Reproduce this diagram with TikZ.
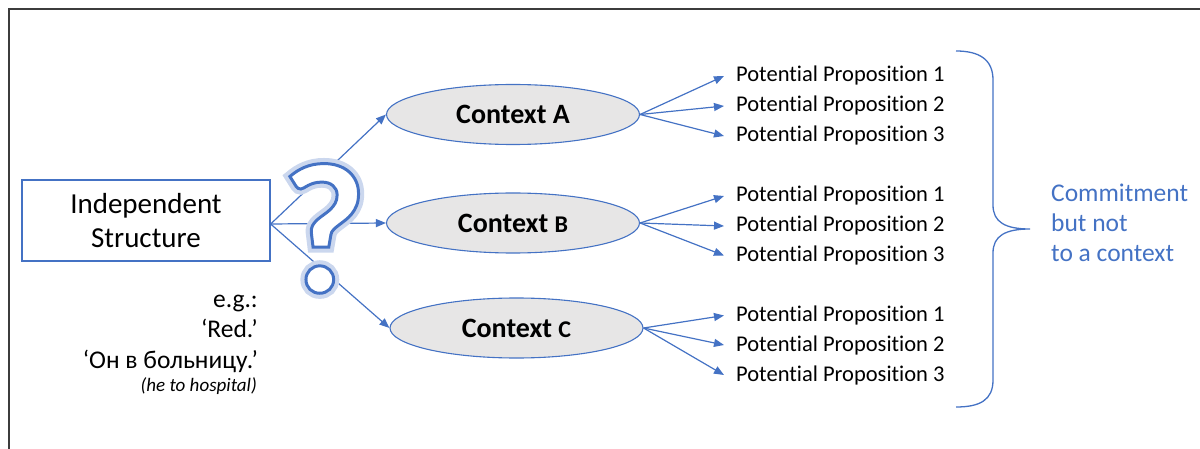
\documentclass[tikz,border=0pt]{standalone}
\usepackage{fontspec}
\setmainfont{Carlito}[Ligatures=NoCommon]
\newfontfamily\qfont{Carlito}[FakeBold=1.6]
\newfontfamily\qglowfont{Carlito}[FakeBold=6]
\usetikzlibrary{shapes.geometric,arrows.meta}
\definecolor{myblue}{HTML}{4472C4}
\definecolor{ctxgray}{HTML}{E7E6E6}
\definecolor{framegray}{HTML}{3C3C3C}
\newcommand\myfs[2]{\fontsize{#1}{#2}\selectfont}
\begin{document}
\begin{tikzpicture}[x=1pt,y=-1pt,
  arr/.style={-{Triangle[length=10pt,width=8pt]}, draw=myblue, line width=1.2pt},
  ctx/.style={ellipse, draw=myblue, fill=ctxgray, line width=1.1pt, minimum width=253pt, minimum height=60pt, inner sep=0pt, font=\bfseries\myfs{28}{34}},
  prop/.style={anchor=base west, inner xsep=12pt, inner ysep=0pt, font=\myfs{22.5}{27}},
  egtext/.style={anchor=base east, inner sep=0pt, font=\myfs{25.5}{30}},
  commit/.style={anchor=base west, inner sep=0pt, text=myblue, font=\myfs{25.5}{30}},
  qm/.style={inner sep=0pt, anchor=base}]
\useasboundingbox (0,0) rectangle (1200,449);
% frame
\draw[framegray, line width=1.6pt] (9,449) -- (9,9) -- (1200,9);
% independent structure
\node[draw=myblue, line width=1.3pt, fill=white, minimum width=248pt, minimum height=81pt, align=center, inner sep=0pt, font=\myfs{29}{34}] (box) at (146,220.5) {Independent\\Structure};
\coordinate (src) at ([yshift=-3.5pt]box.east);
% contexts
\node[ctx] (A) at (513,114.5) {Context A};
\node[ctx] (B) at (513,223) {Context \myfs{24}{29}B};
\node[ctx] (C) at (516.5,328) {Context \myfs{24}{29}C};
\draw[arr] (src) -- (A.west);
\draw[arr] (src) -- (B.west);
\draw[arr] (src) -- (C.west);
% question mark
\node[qm, font=\qglowfont\bfseries\myfs{186}{186}, text=myblue!28] (qglow) at (324,292) {?};
\node[qm, font=\qfont\bfseries\myfs{186}{186}] (qmark) at (324,292) {\special{pdf:bcolor [1 1 1] [0.267 0.447 0.769]}?\special{pdf:ecolor}};
% examples
\node[egtext] (eg1) at (258,307) {e.g.:};
\node[egtext] (eg2) at (258,337) {‘Red.’};
\node[egtext] (eg3) at (258,368) {‘Он в больницу.’};
\node[egtext, font=\itshape\myfs{19}{22}] (eg4) at (257,391) {(he to hospital)};
% propositions
\node[prop] (a1) at (724,82) {Potential Proposition 1};
\node[prop] (a2) at (724,112) {Potential Proposition 2};
\node[prop] (a3) at (724,142) {Potential Proposition 3};
\node[prop] (b1) at (724,202) {Potential Proposition 1};
\node[prop] (b2) at (724,232) {Potential Proposition 2};
\node[prop] (b3) at (724,261.5) {Potential Proposition 3};
\node[prop] (c1) at (724,321.5) {Potential Proposition 1};
\node[prop] (c2) at (724,351) {Potential Proposition 2};
\node[prop] (c3) at (724,381) {Potential Proposition 3};
\foreach \s/\t in {A/a1,A/a2,A/a3,B/b1,B/b2,B/b3,C/c1,C/c2,C/c3}
  \draw[arr] (\s.east) -- (\t.west);
% brace
\coordinate (tip) at (1030,229);
\draw[myblue, line width=1.3pt] (956,51) .. controls (980,51) and (993,60) .. (993,80) -- (993,205)
  .. controls (993,222) and (1005,229) .. (tip)
  .. controls (1005,229) and (993,236) .. (993,253) -- (993,380)
  .. controls (993,400) and (980,407) .. (956,407);
% commitment
\node[commit] (k1) at (1051,201.7) {Commitment};
\node[commit] (k2) at (1051,231.7) {but not};
\node[commit] (k3) at (1051,261.7) {to a context};
\end{tikzpicture}
\end{document}
